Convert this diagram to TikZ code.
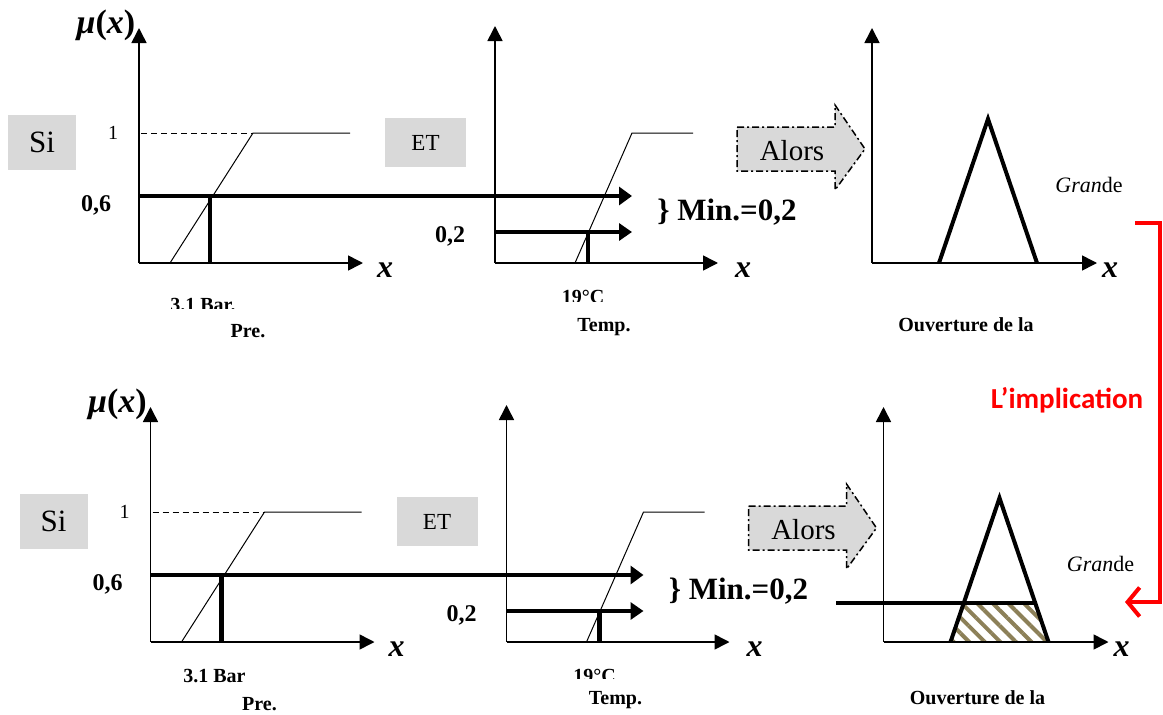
\documentclass[tikz,border=0pt]{standalone}
\usepackage{fontspec}
\setmainfont{Liberation Serif}
\newfontfamily\carlito{Carlito}
\usetikzlibrary{arrows.meta,patterns.meta,calc}
\definecolor{boxgray}{RGB}{217,217,217}
\definecolor{hatchcol}{RGB}{140,128,88}
\pgfdeclarelayer{bg}
\pgfsetlayers{bg,main}
\newcommand{\fsz}[1]{\fontsize{#1}{#1}\selectfont}

\begin{document}
\begin{tikzpicture}[x=1pt, y=-1pt,
  axis/.style={line width=1.6pt, -{Triangle[length=15pt,width=15pt]}},
  memb/.style={line width=1pt},
  level/.style={line width=4.5pt, -{Triangle[length=13pt,width=18pt]}},
  level2/.style={line width=3.8pt, -{Triangle[length=13pt,width=17pt]}},
  cutbar/.style={line width=4.5pt},
  tri/.style={line width=4pt},
  gbox/.style={fill=boxgray, inner sep=0pt},
  alors/.style={fill=boxgray, line width=1.5pt, dash pattern=on 7pt off 3pt on 2pt off 3pt},
  mu/.style={font=\fsz{34}\bfseries},
  axlbl/.style={font=\fsz{32}\bfseries\itshape},
  val/.style={font=\fsz{24}\bfseries},
  caplbl/.style={font=\fsz{20}\bfseries},
  impl/.style={red, line width=4pt, -{Straight Barb[length=12pt,width=29pt]}}]
\useasboundingbox (0,0) rectangle (1163,715);

\foreach \row/\dx/\dy/\barlbl/\barbase/\barclip/\degclip/\prey in
  {t/0/0/{3.1 Bar.}/311/308/301/331, b/11.5/379/{3.1 Bar}/303/320/299/325} {
\begin{scope}[shift={(\dx,\dy)}]
  % axes
  \path (139,263) coordinate (o1\row) (139,28) coordinate (y1\row) (363,263) coordinate (x1\row)
        (495,263) coordinate (o2\row) (495,26) coordinate (y2\row) (718,263) coordinate (x2\row)
        (872,263) coordinate (o3\row) (872,28) coordinate (y3\row) (1097,263) coordinate (x3\row);
  \draw[axis] (o1\row) -- (y1\row);
  \draw[axis] (o1\row) -- (x1\row);
  \draw[axis] (o2\row) -- (y2\row);
  \draw[axis] (o2\row) -- (x2\row);
  \draw[axis] (o3\row) -- (y3\row);
  \draw[axis] (o3\row) -- (x3\row);
  \node[mu] (mu\row) at (106,25) {\itshape μ\upshape(\itshape x\upshape)};
  \node[axlbl] (xa\row) at (385,270) {x};
  \node[axlbl] (xb\row) at (743,270) {x};
  \node[axlbl] (xc\row) at (1110,270) {x};

  % Si : pression
  \node[gbox, minimum width=68pt, minimum height=55pt, font=\fsz{31}] (si\row) at (42,142) {Si};
  \path (141,133) coordinate (d1\row) (170,263) coordinate (p1\row)
        (253,133) coordinate (p2\row) (350,133) coordinate (p3\row);
  \draw[memb, dash pattern=on 6pt off 4pt] (d1\row) -- (p2\row);
  \draw[memb] (p1\row) -- (p2\row) -- (p3\row);
  \node[font=\fsz{20}] (one\row) at (113,133) {1};
  \path (139,196) coordinate (l6a\row) (632,196) coordinate (l6b\row)
        (210,196) coordinate (c6\row) (210,263) coordinate (c6b\row);
  \draw[level] (l6a\row) -- (l6b\row);
  \draw[cutbar] (c6\row) -- (c6b\row);
  \node[val] (v6\row) at (96,205) {0,6};
  \begin{scope}
    \clip (150,280) rectangle (260,\barclip);
    \node[caplbl, anchor=base] (bar\row) at (203,\barbase) {\barlbl};
  \end{scope}
  \node[caplbl] (pre\row) at (248,\prey) {Pre.};

  % ET : temperature
  \node[gbox, minimum width=81pt, minimum height=49pt, font=\fsz{23}] (et\row) at (425.5,142.5) {ET};
  \path (575,263) coordinate (q1\row) (632,133) coordinate (q2\row) (693,133) coordinate (q3\row);
  \draw[memb] (q1\row) -- (q2\row) -- (q3\row);
  \path (495,232) coordinate (l2a\row) (632,232) coordinate (l2b\row)
        (588,232) coordinate (c2\row) (588,263) coordinate (c2b\row);
  \draw[level2] (l2a\row) -- (l2b\row);
  \draw[cutbar] (c2\row) -- (c2b\row);
  \node[val] (v2\row) at (450,236) {0,2};
  \node[font=\fsz{31}\bfseries] (min\row) at (727,212) {\} Min.=0,2};
  \begin{scope}
    \clip (540,270) rectangle (640,\degclip);
    \node[caplbl, anchor=base] (deg\row) at (583,303) {19°C};
  \end{scope}
  \node[caplbl] (temp\row) at (604,\prey-4) {Temp.};

  % Alors : ouverture
  \draw[alors] (737,127) -- (835,127) -- (835,105) -- (865,149) -- (835,190) -- (835,171) -- (737,171) -- cycle;
  \node[font=\fsz{29}] (al\row) at (792,151) {Alors};
  \path (939,263) coordinate (gl\row) (988,119) coordinate (gp\row) (1037,263) coordinate (gr\row);
  \draw[tri] (gl\row) -- (gp\row) -- (gr\row);
  \node[font=\fsz{22}] (gd\row) at (1089,185) {\itshape Gran\upshape de};
  \node[caplbl] (ouv\row) at (966,\prey-6) {Ouverture de la};
\end{scope}
}

% implication (troncature)
\coordinate (cl) at ($(glb)!0.271!(gpb)$);
\coordinate (cr) at ($(grb)!0.271!(gpb)$);
\coordinate (cutL) at (836,0);
\begin{pgfonlayer}{bg}
  \fill[pattern={Lines[angle=-45,distance=11pt,line width=4pt]}, pattern color=hatchcol]
    (cl) -- (cr) -- (grb) -- (glb) -- cycle;
\end{pgfonlayer}
\draw[cutbar] (cutL |- cr) -- (cr);

\coordinate (ia) at (1135,223);
\coordinate (ib) at (1125,602);
\draw[impl] (ia) -- ++(25,0) |- (ib);
\node[font=\carlito\fsz{29}\bfseries, text=red] (implab) at (1067,400) {L’implication};
\end{tikzpicture}
\end{document}
